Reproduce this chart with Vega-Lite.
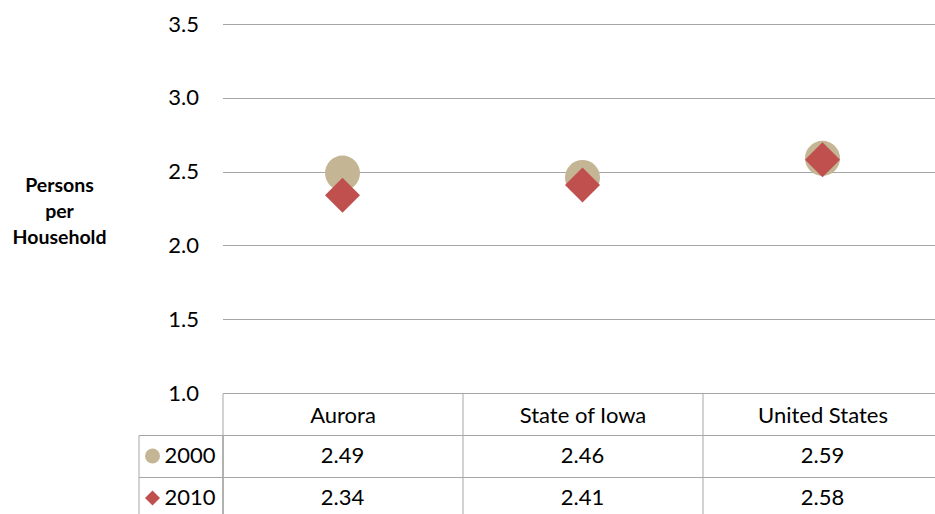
{
  "$schema": "https://vega.github.io/schema/vega-lite/v6.json",
  "padding": {"left": 11.5, "top": 13, "right": 0, "bottom": 0},
  "background": "white",
  "datasets": {
    "households": [
      {"place": "Aurora", "year": "2000", "persons": 2.49},
      {"place": "State of Iowa", "year": "2000", "persons": 2.46},
      {"place": "United States", "year": "2000", "persons": 2.59},
      {"place": "Aurora", "year": "2010", "persons": 2.34},
      {"place": "State of Iowa", "year": "2010", "persons": 2.41},
      {"place": "United States", "year": "2010", "persons": 2.58}
    ]
  },
  "config": {
    "font": "Lato",
    "view": {"stroke": null},
    "legend": {"disable": true},
    "axis": {"labelFont": "Lato", "titleFont": "Lato", "labelColor": "#000", "titleColor": "#000"}
  },
  "columns": 2,
  "spacing": {"row": 42, "column": 0},
  "bounds": "flush",
  "concat": [
    {
      "width": 84,
      "height": 369,
      "data": {"values": []},
      "mark": "point"
    },
    {
      "width": 720,
      "height": 369,
      "data": {"name": "households"},
      "mark": {"type": "point", "filled": true, "opacity": 1, "size": 1225},
      "encoding": {
        "x": {
          "field": "place", "type": "nominal",
          "sort": ["Aurora", "State of Iowa", "United States"],
          "scale": {"type": "band", "paddingInner": 0, "paddingOuter": 0},
          "axis": {
            "title": null, "orient": "bottom", "labelAngle": 0, "labelFontSize": 22,
            "labelBaseline": "middle", "labelPadding": -20, "ticks": true, "tickSize": 42,
            "tickBand": "extent", "tickColor": "#a6a6a6", "domainColor": "#a6a6a6", "grid": false
          }
        },
        "y": {
          "field": "persons", "type": "quantitative",
          "scale": {"domain": [1, 3.5], "nice": false, "zero": false},
          "axis": {
            "values": [1, 1.5, 2, 2.5, 3, 3.5], "format": ".1f", "grid": true, "gridColor": "#a6a6a6",
            "domain": false, "ticks": false, "labelFontSize": 22, "labelPadding": 24,
            "title": ["Persons", "per", "Household"], "titleAngle": 0, "titleFontSize": 19.5,
            "titleFontWeight": "bold", "titleAlign": "center", "titleBaseline": "middle",
            "titleLineHeight": 26, "titleX": -163.5, "titleY": 161
          }
        },
        "color": {"field": "year", "type": "nominal", "scale": {"domain": ["2000", "2010"], "range": ["#C4B695", "#C0504D"]}},
        "shape": {"field": "year", "type": "nominal", "scale": {"domain": ["2000", "2010"], "range": ["circle", "diamond"]}}
      }
    },
    {
      "width": 84,
      "height": 84,
      "data": {"name": "households"},
      "transform": [{"filter": "datum.place === 'Aurora'"}],
      "view": {"stroke": "#a6a6a6"},
      "encoding": {
        "y": {
          "field": "year", "type": "nominal",
          "scale": {"type": "band", "paddingInner": 0, "paddingOuter": 0},
          "axis": {"title": null, "labels": false, "ticks": false, "domain": false, "grid": true, "tickBand": "extent", "gridColor": "#a6a6a6"}
        }
      },
      "layer": [
        {
          "mark": {"type": "point", "filled": true, "opacity": 1, "size": 225, "xOffset": -28},
          "encoding": {
            "color": {"field": "year", "type": "nominal", "scale": {"domain": ["2000", "2010"], "range": ["#C4B695", "#C0504D"]}},
            "shape": {"field": "year", "type": "nominal", "scale": {"domain": ["2000", "2010"], "range": ["circle", "diamond"]}}
          }
        },
        {
          "mark": {"type": "text", "align": "right", "xOffset": 35, "fontSize": 22, "color": "#000"},
          "encoding": {"text": {"field": "year", "type": "nominal"}}
        }
      ]
    },
    {
      "width": 720,
      "height": 84,
      "data": {"name": "households"},
      "view": {"stroke": "#a6a6a6"},
      "mark": {"type": "text", "fontSize": 22, "color": "#000"},
      "encoding": {
        "x": {
          "field": "place", "type": "nominal",
          "sort": ["Aurora", "State of Iowa", "United States"],
          "scale": {"type": "band", "paddingInner": 0, "paddingOuter": 0},
          "axis": {"title": null, "labels": false, "ticks": false, "domain": false, "grid": true, "tickBand": "extent", "gridColor": "#a6a6a6"}
        },
        "y": {
          "field": "year", "type": "nominal",
          "scale": {"type": "band", "paddingInner": 0, "paddingOuter": 0},
          "axis": {"title": null, "labels": false, "ticks": false, "domain": false, "grid": true, "tickBand": "extent", "gridColor": "#a6a6a6"}
        },
        "text": {"field": "persons", "type": "quantitative", "format": ".2f"}
      }
    }
  ]
}
